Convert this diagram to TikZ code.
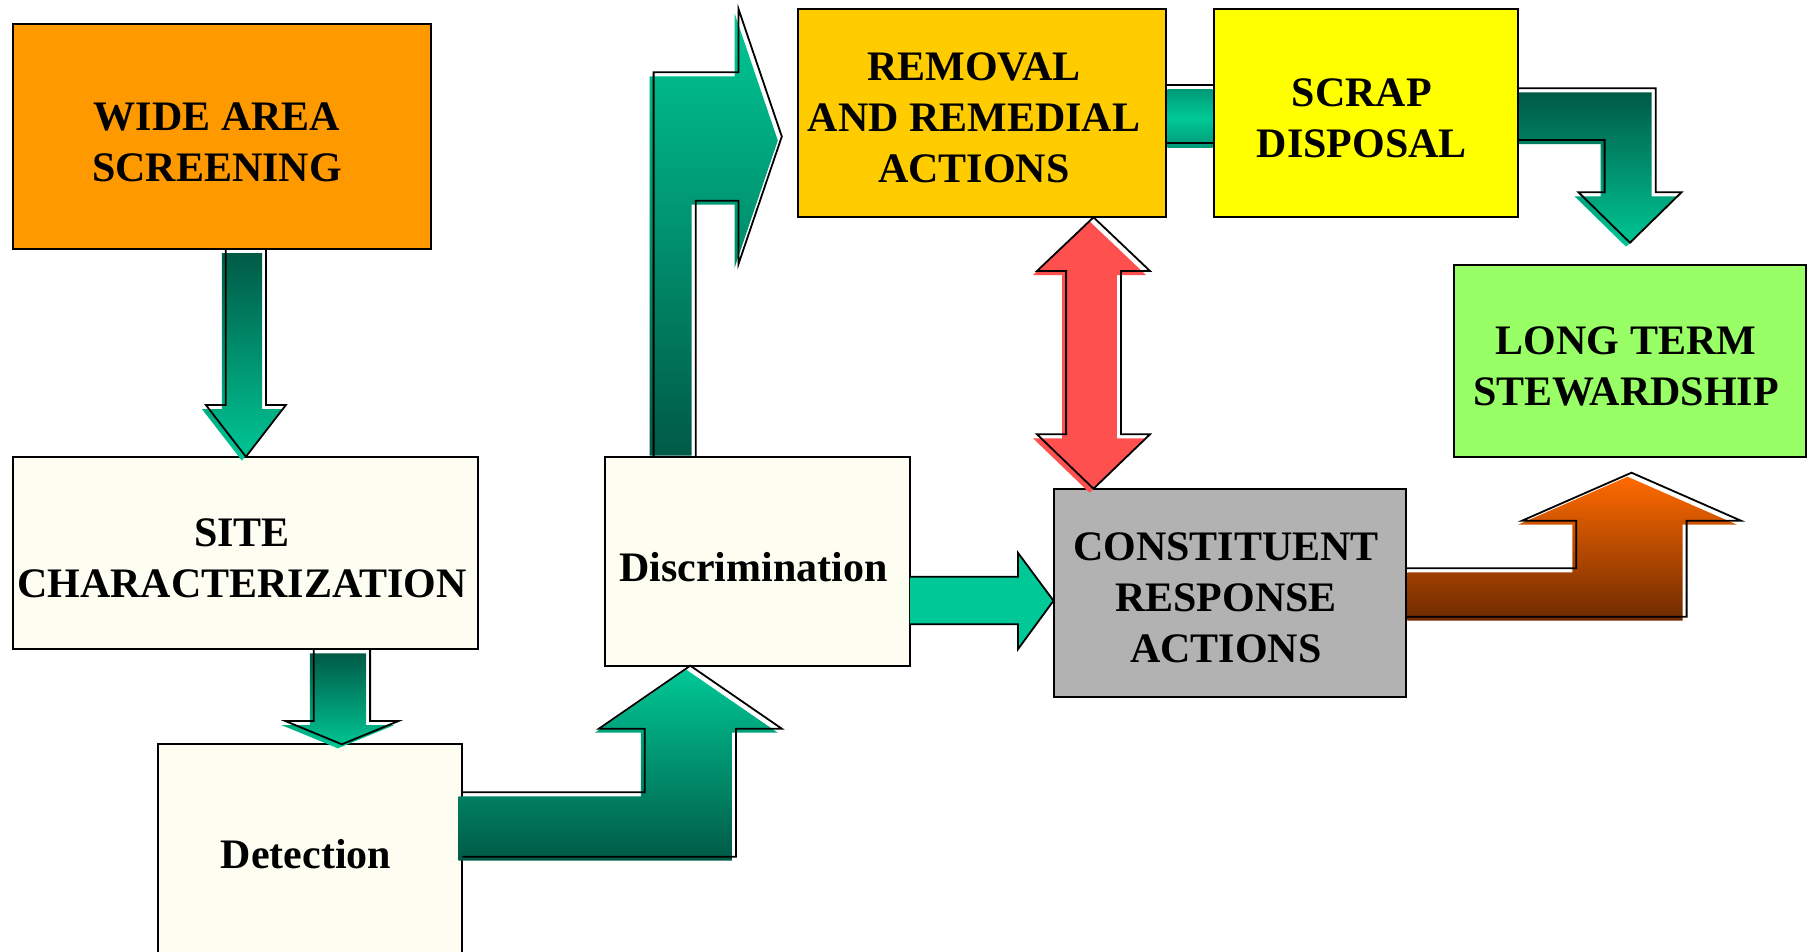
\documentclass[tikz,border=0pt]{standalone}
\usepackage{fontspec}
\setmainfont{Liberation Serif}
\definecolor{cOrange}{HTML}{FF9900}
\definecolor{cGold}{HTML}{FFCC00}
\definecolor{cYellow}{HTML}{FFFF00}
\definecolor{cLime}{HTML}{99FF66}
\definecolor{cGrey}{HTML}{B2B2B2}
\definecolor{cCream}{HTML}{FDFDF1}
\definecolor{gLight}{HTML}{00C896}
\definecolor{gMid}{HTML}{009A78}
\definecolor{gDark}{HTML}{005A46}
\definecolor{cRed}{HTML}{FF5050}
\definecolor{oTop}{HTML}{FF6A00}
\definecolor{oBot}{HTML}{6E2A00}
\begin{document}
\begin{tikzpicture}[x=1pt,y=-1pt,
  box/.style={draw=black, line width=2pt, inner sep=0pt},
  txt/.style={inner sep=0pt, align=center, font=\fontsize{42}{51}\selectfont\bfseries},
  outl/.style={draw=black, line width=1.8pt, line join=miter},
  sh/.style={shift={(-4,4)}}]
\useasboundingbox (0,0) rectangle (1807,951);

% ---------- boxes ----------
\node[box, fill=cOrange, minimum width=417.1pt, minimum height=224.7pt] (wide) at (222,136.7) {};
\node[box, fill=cCream, minimum width=465pt, minimum height=192.6pt] (site) at (245.9,553) {};
\node[box, fill=cCream, minimum width=304.6pt, minimum height=219.7pt] (detect) at (310,854.2) {};
\node[box, fill=cCream, minimum width=304.6pt, minimum height=209pt] (disc) at (757.7,561.2) {};
\node[box, fill=cGold, minimum width=368.5pt, minimum height=208.3pt] (removal) at (982.15,113.15) {};
\node[box, fill=cYellow, minimum width=304.7pt, minimum height=208.3pt] (scrap) at (1365.85,113.15) {};
\node[box, fill=cLime, minimum width=352.3pt, minimum height=191.7pt] (long) at (1629.75,360.85) {};
\node[box, fill=cGrey, minimum width=352.8pt, minimum height=208pt] (const) at (1229.9,592.7) {};

% ---------- texts ----------
\node[txt] (wideT) at (217,142.5) {WIDE AREA\\SCREENING};
\node[txt] (siteT) at (242,558.3) {SITE\\CHARACTERIZATION};
\node[txt] (detectT) at (306,854.2) {Detection};
\node[txt] (discT) at (753.5,567) {Discrimination};
\node[txt] (removalT) at (974,118) {REMOVAL\\AND REMEDIAL\\ACTIONS};
\node[txt] (scrapT) at (1361.7,117.8) {SCRAP\\DISPOSAL};
\node[txt] (longT) at (1626,366.7) {LONG TERM\\STEWARDSHIP};
\node[txt] (constT) at (1226,597.5) {CONSTITUENT\\RESPONSE\\ACTIONS};

% ---------- block arrows: fills ----------
% wide -> site
\shade[sh, top color=gDark, bottom color=gLight]
  (225.8,249) -- (225.8,405) -- (205.9,405) -- (245.9,456.7) -- (285.9,405) -- (266,405) -- (266,249) -- cycle;
% site -> detect
\shade[sh, top color=gDark, bottom color=gLight]
  (313.8,649.3) -- (313.8,721) -- (285.3,721) -- (341.9,744.3) -- (398.5,721) -- (370.1,721) -- (370.1,649.3) -- cycle;
% detect -> disc
\shade[sh, top color=gLight, bottom color=gDark]
  (462.3,792.3) -- (644.8,792.3) -- (644.8,728.7) -- (598.9,728.7) -- (690.3,665.7) -- (781.8,728.7) -- (735.9,728.7) -- (735.9,856.7) -- (462.3,856.7) -- cycle;
% disc -> removal
\shade[top color=gLight, bottom color=gDark]
  (649.6,455.7) -- (649.6,76.3) -- (734.5,76.3) -- (734.5,13) -- (777.8,140.5) -- (734.5,268) -- (734.5,204.7) -- (691.7,204.7) -- (691.7,455.7) -- cycle;
% removal -> scrap
\shade[sh, top color=gMid, bottom color=gMid, middle color=gLight]
  (1171.4,85) rectangle (1216.5,143.3);
% scrap -> long
\shade[sh, top color=gDark, bottom color=gLight]
  (1523.2,88.3) -- (1655.7,88.3) -- (1655.7,192.3) -- (1681.5,192.3) -- (1630,242.7) -- (1578.5,192.3) -- (1604.6,192.3) -- (1604.6,140) -- (1523.2,140) -- cycle;
% const -> long
\shade[sh, top color=oTop, bottom color=oBot]
  (1411.3,568.3) -- (1576.3,568.3) -- (1576.3,520.7) -- (1522,520.7) -- (1631.5,472.7) -- (1741,520.7) -- (1686.6,520.7) -- (1686.6,616.7) -- (1411.3,616.7) -- cycle;
% removal <-> const
\fill[sh, cRed]
  (1093.5,217.3) -- (1150,271) -- (1120.9,271) -- (1120.9,434.3) -- (1150,434.3) -- (1093.5,488.7) -- (1037,434.3) -- (1066.1,434.3) -- (1066.1,271) -- (1037,271) -- cycle;

% ---------- block arrows: outlines ----------
\draw[outl]
  (225.8,249) -- (225.8,405) -- (205.9,405) -- (245.9,456.7) -- (285.9,405) -- (266,405) -- (266,249);
\draw[outl]
  (313.8,649.3) -- (313.8,721) -- (285.3,721) -- (341.9,744.3) -- (398.5,721) -- (370.1,721) -- (370.1,649.3);
\draw[outl]
  (462.3,792.3) -- (644.8,792.3) -- (644.8,728.7) -- (598.9,728.7) -- (690.3,665.7) -- (781.8,728.7) -- (735.9,728.7) -- (735.9,856.7) -- (462.3,856.7);
\draw[outl]
  (653.6,456.7) -- (653.6,72.3) -- (738.5,72.3) -- (738.5,9) -- (781.8,136.5) -- (738.5,264) -- (738.5,200.7) -- (695.7,200.7) -- (695.7,456.7);
\draw[outl] (1166.4,85) -- (1213.5,85) (1166.4,143.3) -- (1213.5,143.3);
\draw[outl]
  (1518.2,88.3) -- (1655.7,88.3) -- (1655.7,192.3) -- (1681.5,192.3) -- (1630,242.7) -- (1578.5,192.3) -- (1604.6,192.3) -- (1604.6,140) -- (1518.2,140);
\draw[outl]
  (1406.3,568.3) -- (1576.3,568.3) -- (1576.3,520.7) -- (1522,520.7) -- (1631.5,472.7) -- (1741,520.7) -- (1686.6,520.7) -- (1686.6,616.7) -- (1406.3,616.7);
\draw[outl]
  (1093.5,217.3) -- (1150,271) -- (1120.9,271) -- (1120.9,434.3) -- (1150,434.3) -- (1093.5,488.7) -- (1037,434.3) -- (1066.1,434.3) -- (1066.1,271) -- (1037,271) -- cycle;
% disc -> const (plain)
\draw[outl, fill=gLight]
  (910,576.7) -- (1017.9,576.7) -- (1017.9,552.7) -- (1053.5,600.7) -- (1017.9,649.3) -- (1017.9,624.3) -- (910,624.3);
\end{tikzpicture}
\end{document}
